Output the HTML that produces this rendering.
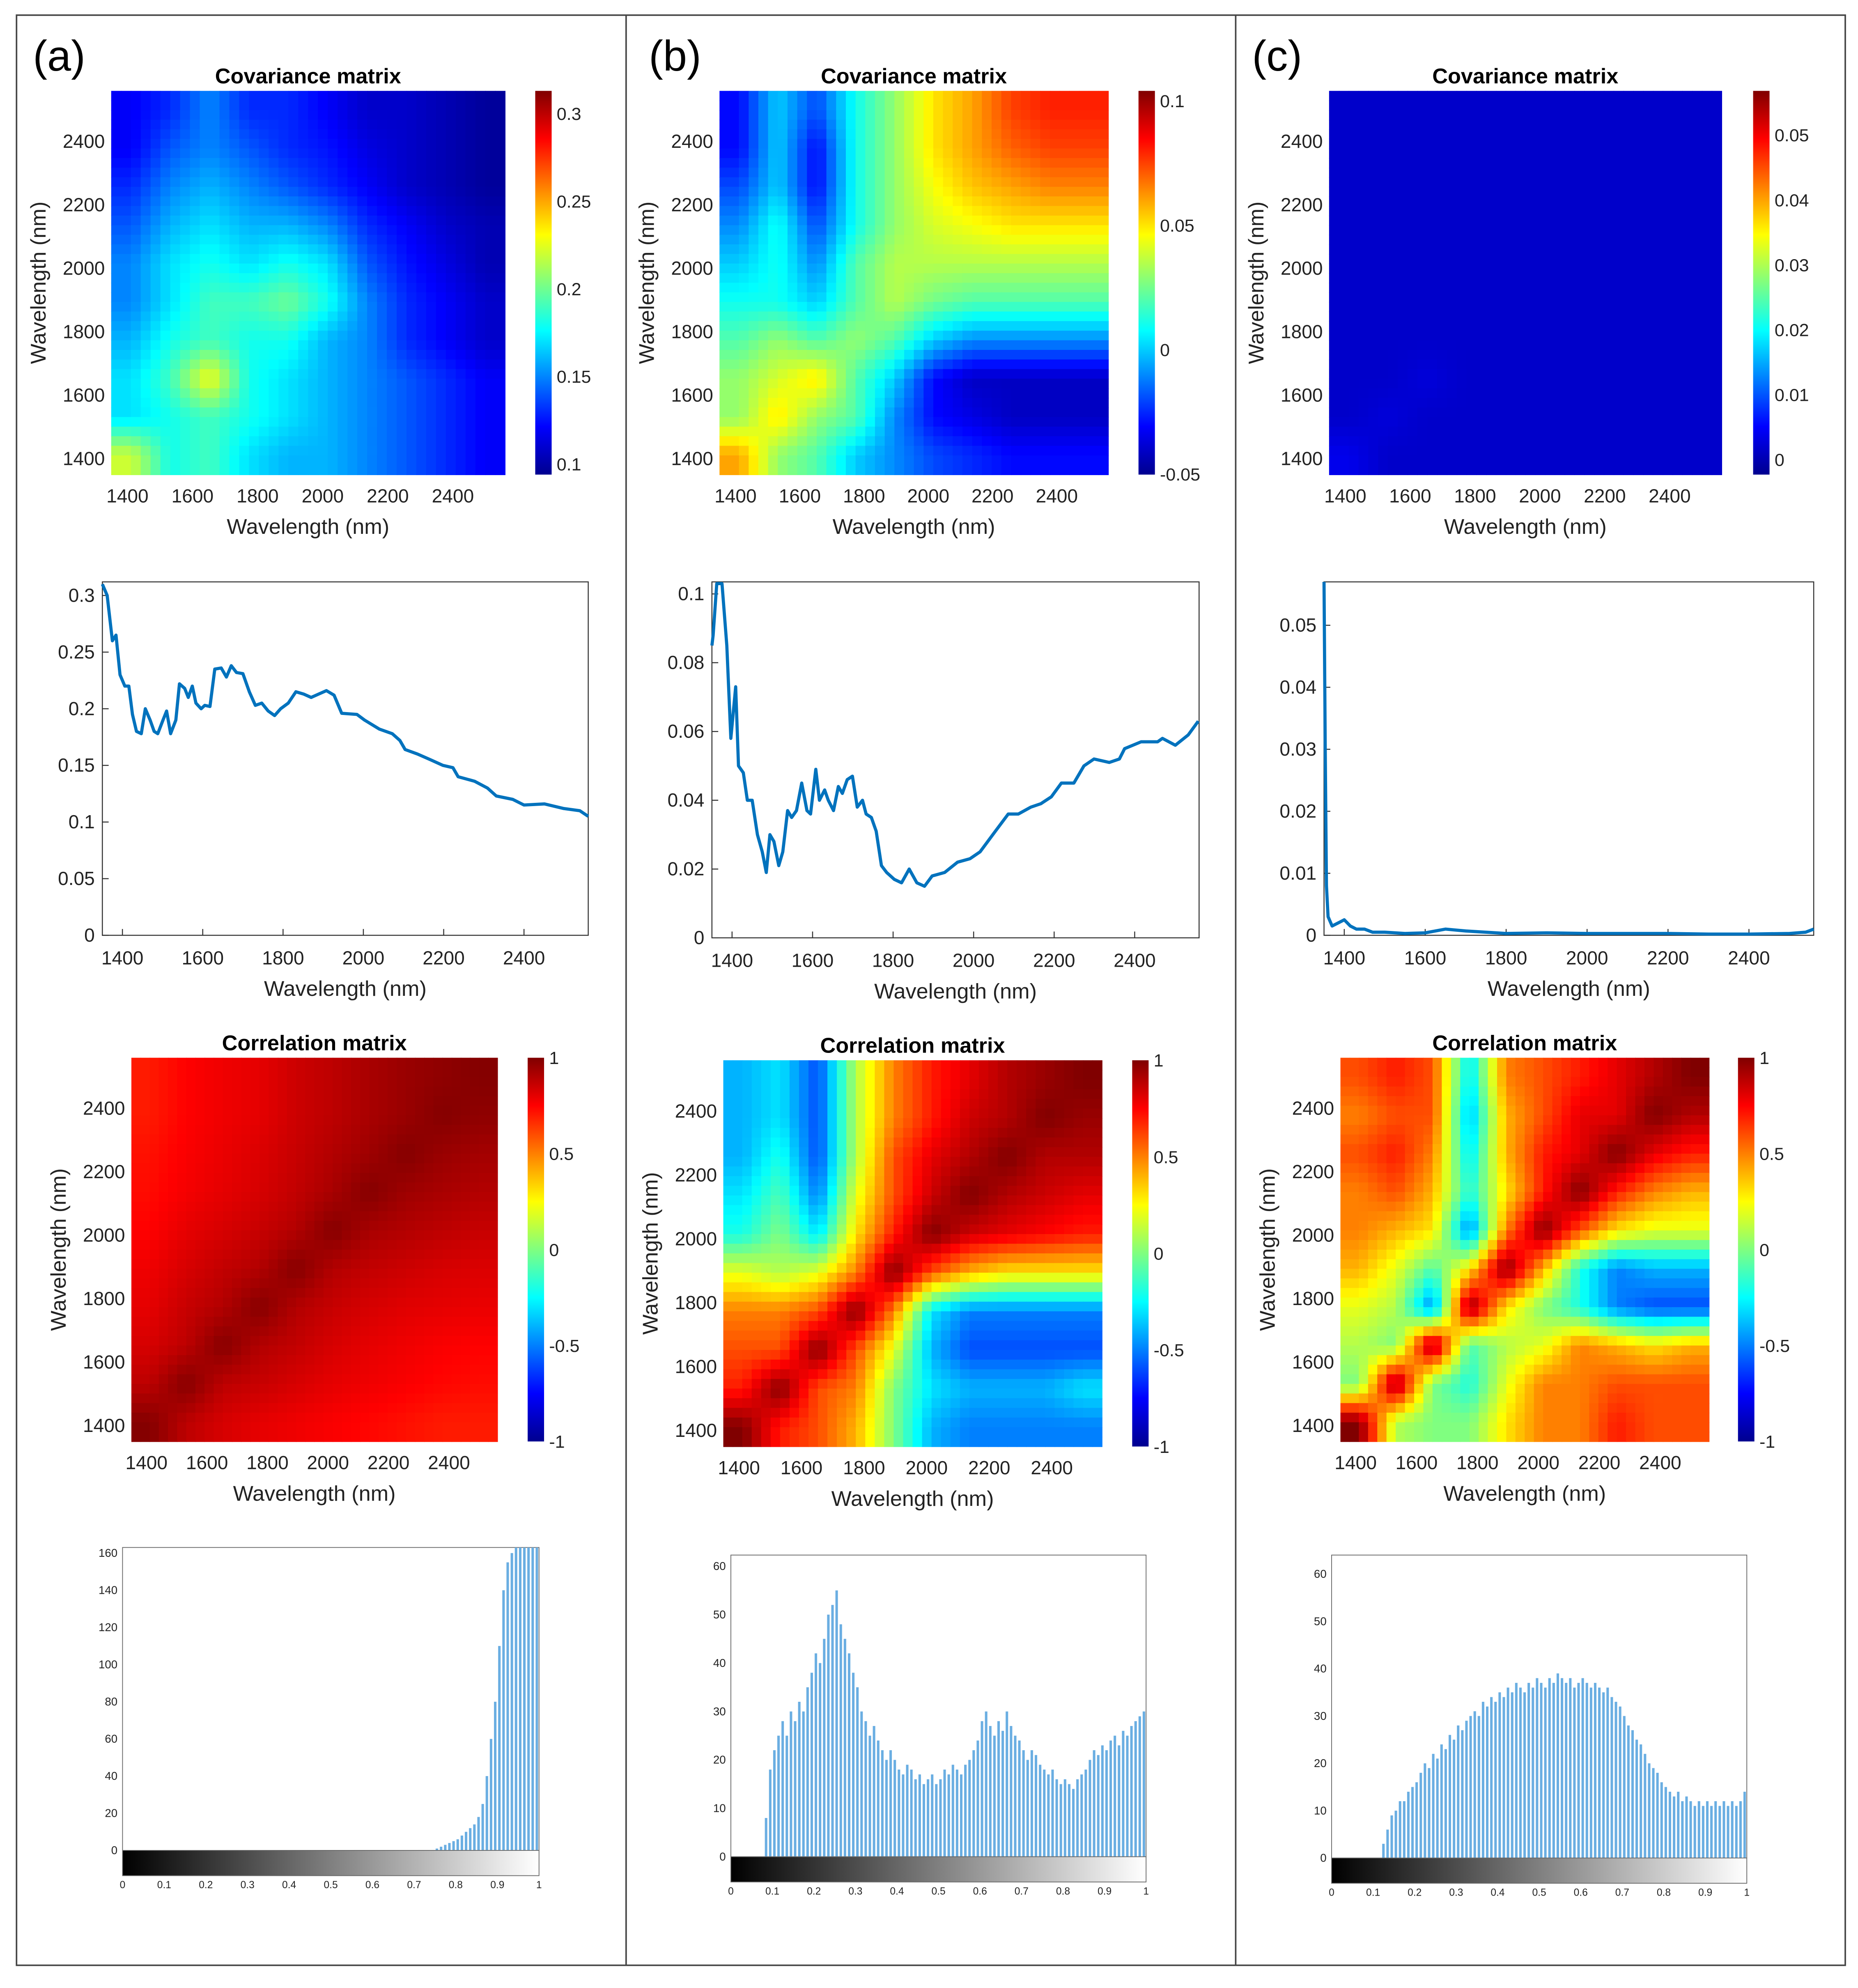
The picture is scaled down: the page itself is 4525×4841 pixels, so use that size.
<!DOCTYPE html>
<html><head><meta charset="utf-8">
<style>
html,body{margin:0;padding:0;background:#fff;}
svg{display:block;font-family:"Liberation Sans",Arial,sans-serif;}
</style></head>
<body>
<svg id="fig" width="4525" height="4841" viewBox="0 0 1472 1575" xmlns="http://www.w3.org/2000/svg">
<defs>
<linearGradient id="jetg" x1="0" y1="1" x2="0" y2="0">
<stop offset="0" stop-color="#00008f"/><stop offset="0.125" stop-color="#0000ff"/><stop offset="0.375" stop-color="#00ffff"/><stop offset="0.625" stop-color="#ffff00"/><stop offset="0.875" stop-color="#ff0000"/><stop offset="1" stop-color="#800000"/>
</linearGradient>
<linearGradient id="grayg" x1="0" y1="0" x2="1" y2="0"><stop offset="0" stop-color="#000"/><stop offset="1" stop-color="#fff"/></linearGradient>
</defs>
<rect x="13" y="12" width="1449" height="1545" fill="none" stroke="#444" stroke-width="1.2"/>
<line x1="496" y1="12" x2="496" y2="1557" stroke="#444" stroke-width="1.2"/>
<line x1="979" y1="12" x2="979" y2="1557" stroke="#444" stroke-width="1.2"/>
<text x="26" y="56" font-size="34" font-weight="500">(a)</text>
<text x="514" y="56" font-size="34" font-weight="500">(b)</text>
<text x="992" y="56" font-size="34" font-weight="500">(c)</text>
<g id="root"></g>
</svg>
<script>
// ---------- DATA ----------
const wlTicks = [1400,1600,1800,2000,2200,2400];
const covA = [
[.12,.13,.15,.13,.13,.12,.11,.11,.105,.10],
[.12,.14,.15,.14,.13,.125,.115,.11,.105,.10],
[.13,.15,.16,.15,.14,.13,.12,.11,.105,.10],
[.14,.16,.17,.16,.16,.15,.13,.12,.11,.105],
[.15,.17,.18,.17,.18,.17,.14,.125,.115,.105],
[.15,.17,.19,.19,.20,.18,.15,.13,.12,.11],
[.16,.18,.19,.18,.18,.16,.15,.13,.12,.11],
[.17,.19,.23,.18,.17,.16,.15,.14,.13,.12],
[.17,.18,.19,.18,.17,.16,.15,.14,.13,.12],
[.22,.18,.19,.17,.16,.16,.15,.14,.13,.12]];
const covB = [
[-.03,0,-.02,.01,.03,.05,.06,.075,.08,.08],
[-.03,0,-.03,.01,.03,.05,.06,.07,.075,.075],
[-.02,0,-.03,.01,.03,.045,.055,.06,.065,.065],
[-.01,.01,-.02,.01,.03,.04,.045,.05,.05,.05],
[0,.01,-.01,.02,.035,.035,.035,.035,.035,.035],
[.01,.01,0,.02,.035,.025,.02,.02,.02,.02],
[.02,.03,.02,.03,.02,0,-.01,-.01,-.01,-.01],
[.03,.04,.05,.02,0,-.03,-.04,-.04,-.04,-.04],
[.03,.05,.03,.02,-.01,-.03,-.035,-.04,-.04,-.04],
[.06,.03,.02,0,-.01,-.02,-.025,-.03,-.03,-.03]];
const covC = [
[.002,.002,.002,.002,.002,.002,.002,.002,.002,.002],
[.002,.002,.002,.002,.002,.002,.002,.002,.002,.002],
[.002,.002,.002,.002,.002,.002,.002,.002,.002,.002],
[.002,.002,.002,.002,.002,.002,.002,.002,.002,.002],
[.002,.002,.002,.002,.002,.002,.002,.002,.002,.002],
[.002,.002,.002,.002,.002,.002,.002,.002,.002,.002],
[.002,.002,.002,.002,.002,.002,.002,.002,.002,.002],
[.002,.002,.003,.002,.002,.002,.002,.002,.002,.002],
[.002,.003,.002,.002,.002,.002,.002,.002,.002,.002],
[.004,.002,.002,.002,.002,.002,.002,.002,.002,.002]];
const corrA = [
[.70,.75,.78,.80,.85,.88,.92,.95,.97,.99],
[.70,.75,.78,.80,.85,.88,.92,.95,.99,.97],
[.72,.76,.79,.82,.86,.90,.94,.99,.95,.93],
[.73,.77,.80,.83,.87,.92,.99,.94,.92,.90],
[.75,.80,.83,.86,.90,.99,.92,.90,.88,.86],
[.78,.83,.87,.90,.99,.90,.87,.85,.83,.82],
[.80,.86,.90,.99,.90,.86,.83,.81,.80,.79],
[.83,.88,.99,.90,.87,.83,.80,.78,.76,.75],
[.88,.99,.88,.86,.83,.80,.78,.76,.74,.73],
[.99,.88,.83,.80,.78,.76,.74,.72,.70,.70]];
const corrB = [
[-.4,-.3,-.6,.1,.5,.7,.8,.9,.95,1],
[-.4,-.3,-.6,.1,.5,.7,.85,.9,1,.95],
[-.4,-.2,-.6,.1,.6,.8,.9,1,.9,.9],
[-.3,-.1,-.5,.2,.6,.85,1,.9,.85,.8],
[-.2,0,-.3,.3,.7,1,.85,.8,.75,.7],
[.2,.1,.2,.5,1,.6,.4,.3,.3,.3],
[.5,.5,.6,1,.5,-.3,-.5,-.5,-.5,-.5],
[.6,.6,1,.6,.2,-.4,-.6,-.6,-.6,-.6],
[.7,1,.6,.5,0,-.3,-.4,-.4,-.4,-.3],
[1,.7,.6,.4,0,-.4,-.5,-.5,-.5,-.5]];
const corrC = [
[.6,.7,.6,-.3,.5,.6,.7,.8,.9,1],
[.5,.6,.6,-.4,.4,.6,.8,.8,1,.9],
[.6,.7,.5,-.3,.4,.7,.8,1,.8,.7],
[.5,.6,.4,-.2,.3,.7,1,.7,.5,.4],
[.5,.4,.3,-.5,.5,1,.6,.3,.2,.2],
[.4,.2,-.1,.3,1,.4,-.2,-.5,-.4,-.4],
[.2,.1,-.5,1,.3,0,-.2,-.5,-.6,-.6],
[.1,0,1,-.1,.1,.2,.5,.4,.3,.4],
[0,1,0,-.2,.2,.5,.5,.6,.6,.6],
[1,.1,0,0,.3,.5,.5,.7,.6,.6]];
const lineAx = [1350,1362,1375,1384,1394,1406,1416,1425,1435,1447,1457,1469,1479,1488,1501,1510,1520,1533,1542,1555,1564,1574,1583,1596,1605,1618,1630,1646,1659,1671,1684,1700,1716,1731,1747,1763,1779,1794,1813,1832,1851,1870,1889,1908,1927,1946,1984,2003,2040,2072,2091,2104,2135,2167,2198,2223,2236,2277,2309,2331,2372,2400,2451,2498,2539,2560];
const lineAy = [.31,.30,.26,.265,.23,.22,.22,.195,.18,.178,.20,.19,.18,.178,.19,.198,.178,.19,.222,.218,.21,.22,.205,.2,.203,.202,.235,.236,.228,.238,.232,.231,.215,.203,.205,.198,.194,.2,.205,.215,.213,.21,.213,.216,.212,.196,.195,.19,.182,.178,.172,.164,.16,.155,.15,.148,.14,.136,.13,.123,.12,.115,.116,.112,.11,.105];
const lineBx = [1350,1353,1362,1375,1387,1397,1409,1416,1428,1438,1450,1463,1475,1485,1494,1504,1516,1526,1538,1548,1560,1573,1586,1595,1608,1617,1630,1639,1652,1664,1674,1686,1699,1711,1724,1733,1746,1758,1771,1784,1803,1821,1840,1859,1878,1897,1928,1960,1991,2016,2054,2086,2111,2142,2167,2193,2218,2249,2274,2299,2337,2362,2375,2416,2457,2469,2501,2533,2558];
const lineBy = [.085,.088,.103,.103,.085,.058,.073,.05,.048,.04,.04,.03,.025,.019,.03,.028,.021,.025,.037,.035,.037,.045,.037,.036,.049,.04,.043,.04,.037,.044,.042,.046,.047,.038,.04,.036,.035,.031,.021,.019,.017,.016,.02,.016,.015,.018,.019,.022,.023,.025,.031,.036,.036,.038,.039,.041,.045,.045,.05,.052,.051,.052,.055,.057,.057,.058,.056,.059,.063];
const lineCx = [1350,1353,1356,1360,1370,1385,1400,1415,1430,1450,1470,1500,1550,1600,1650,1700,1800,1900,2000,2100,2200,2300,2400,2500,2540,2560];
const lineCy = [.057,.03,.008,.003,.0015,.002,.0025,.0015,.001,.001,.0005,.0005,.0003,.0004,.001,.0007,.0003,.0004,.0003,.0003,.0003,.0002,.0002,.0003,.0005,.001];
const histA = [0,0,0,0,0,0,0,0,0,0,0,0,0,0,0,0,0,0,0,0,0,0,0,0,0,0,0,0,0,0,0,0,0,0,0,0,0,0,0,0,0,0,0,0,0,0,0,0,0,0,0,0,0,0,0,0,0,0,0,0,0,0,0,0,0,0,0,0,0,0,0,0,0,0,0,
1,2,3,4,5,6,8,10,12,14,18,25,40,60,80,110,140,155,160,165,165,165,165,165,165];
const histB = [0,0,0,0,0,0,0,0,8,18,22,25,28,25,30,28,32,30,35,38,42,40,45,50,52,55,48,45,42,38,35,30,28,25,27,24,22,20,22,20,18,17,19,18,16,17,15,16,17,15,16,18,17,19,18,17,19,20,22,24,28,30,27,25,28,26,30,27,25,24,22,20,22,21,19,18,17,18,16,15,16,15,14,16,17,18,20,22,21,23,22,24,25,23,26,25,27,28,29,30];
const histC = [0,0,0,0,0,0,0,0,0,0,0,0,3,6,9,10,12,12,14,15,16,18,20,19,22,21,24,23,26,25,28,27,29,30,31,30,33,32,34,33,35,34,36,35,37,36,35,37,36,38,37,36,38,37,39,38,37,38,36,37,38,37,36,37,36,35,36,34,33,32,30,28,27,25,24,22,20,19,18,16,15,14,13,14,12,13,12,11,12,11,12,11,12,11,12,11,12,11,12,14];
const histXTicks = [0,0.1,0.2,0.3,0.4,0.5,0.6,0.7,0.8,0.9,1];

// ---------- HELPERS ----------
const NS = "http://www.w3.org/2000/svg";
const root = document.getElementById('root');
function mk(tag, attrs, parent){ const e=document.createElementNS(NS,tag); for(const k in attrs) e.setAttribute(k,attrs[k]); (parent||root).appendChild(e); return e; }
function lin(d0,d1,r0,r1){ return v => r0+(v-d0)/(d1-d0)*(r1-r0); }
function jet(t){ t=Math.max(0,Math.min(1,t));
  const r=Math.max(0,Math.min(1,Math.min(4*t-1.5,-4*t+4.5)));
  const g=Math.max(0,Math.min(1,Math.min(4*t-0.5,-4*t+3.5)));
  const b=Math.max(0,Math.min(1,Math.min(4*t+0.5,-4*t+2.5)));
  return `rgb(${Math.round(r*255)},${Math.round(g*255)},${Math.round(b*255)})`; }
function txt(x,y,s,size,anchor,parent,extra){ const t=mk('text',Object.assign({x:x,y:y,'font-size':size,'text-anchor':anchor||'start',fill:'#222'},extra||{}),parent); t.textContent=s; return t; }
// bilinear sample of grid M (rows top->bottom) at fractional position (fr,fc) in cell-center coords
function sample(M,fr,fc){
  const n=M.length;
  fr=Math.max(0,Math.min(n-1,fr)); fc=Math.max(0,Math.min(n-1,fc));
  const r0=Math.floor(fr), c0=Math.floor(fc), r1=Math.min(n-1,r0+1), c1=Math.min(n-1,c0+1);
  const a=fr-r0, b=fc-c0;
  return M[r0][c0]*(1-a)*(1-b)+M[r0][c1]*(1-a)*b+M[r1][c0]*a*(1-b)+M[r1][c1]*a*b;
}

function heatmap(c){
  const g=mk('g',{});
  
  
  const xs=lin(1350,2560,c.x0,c.x1), ys=lin(1350,2560,c.y1,c.y0);
  const n=c.M.length, R=40, step=(2560-1350)/R;
  for(let i=0;i<R;i++) for(let j=0;j<R;j++){
    const wl0=1350+j*step, wlTop=2560-i*step;
    const fr=(i+0.5)*n/R-0.5, fc=(j+0.5)*n/R-0.5;
    const v=sample(c.M,fr,fc);
    const r=mk('rect',{x:xs(wl0),y:ys(wlTop),width:xs(wl0+step)-xs(wl0)+0.4,height:ys(wlTop-step)-ys(wlTop)+0.4,fill:jet((v-c.vmin)/(c.vmax-c.vmin))},g);
    
    
  }
  wlTicks.forEach(w=>{
    const tx=txt(xs(w),c.y1+22,String(w),15,'middle',g);
    
    
    const ty=txt(c.x0-5,ys(w)+5,String(w),15,'end',g);
    
    
  });
  const tt=txt((c.x0+c.x1)/2,c.y0-6,c.title,17,'middle',g,{'font-weight':'bold',fill:'#000'});
  
  
  const xl=txt((c.x0+c.x1)/2,c.y1+47,'Wavelength (nm)',17,'middle',g);
  
  
  const ylx=c.x0-52, yly=(c.y0+c.y1)/2;
  const yl=txt(ylx,yly,'Wavelength (nm)',17,'middle',g,{transform:`rotate(-90 ${ylx} ${yly})`});
  
  
  const cb=mk('rect',{x:c.cbx,y:c.y0,width:13,height:c.y1-c.y0,fill:'url(#jetg)'},g);
  
  
  const cs=lin(c.vmin,c.vmax,c.y1,c.y0);
  c.cbTicks.forEach(v=>{
    const l=txt(c.cbx+17,cs(v)+5,String(v),14,'start',g);
    
    
  });
}

function lineplot(c){
  const g=mk('g',{});
  
  
  const xs=lin(1350,2560,c.x0,c.x1), ys=lin(c.ymin,c.ymax,c.y1,c.y0);
  const box=mk('rect',{x:c.x0,y:c.y0,width:c.x1-c.x0,height:c.y1-c.y0,fill:'#fff',stroke:'#333','stroke-width':0.8},g);
  
  
  c.yticks.forEach(v=>{
    mk('line',{x1:c.x0,x2:c.x0+5,y1:ys(v),y2:ys(v),stroke:'#333','stroke-width':0.8},g);
    const l=txt(c.x0-6,ys(v)+5,String(v),15,'end',g);
    
    
  });
  wlTicks.forEach(w=>{
    mk('line',{x1:xs(w),x2:xs(w),y1:c.y1,y2:c.y1-5,stroke:'#333','stroke-width':0.8},g);
    const l=txt(xs(w),c.y1+23,String(w),15,'middle',g);
    
    
  });
  const xl=txt((c.x0+c.x1)/2,c.y1+48,'Wavelength (nm)',17,'middle',g);
  
  
  const pts=c.xs.map((x,i)=>xs(x).toFixed(2)+','+ys(c.ys[i]).toFixed(2)).join(' ');
  const pl=mk('polyline',{points:pts,fill:'none',stroke:'#0072BD','stroke-width':2.5,'stroke-linejoin':'round'},g);
  
  
}

function histogram(c){
  const g=mk('g',{});
  
  
  const xs=lin(0,1,c.x0,c.x1), ys=lin(0,c.ymax,c.y1,c.y0);
  const box=mk('rect',{x:c.x0,y:c.y0,width:c.x1-c.x0,height:c.y1-c.y0,fill:'#fff',stroke:'#666','stroke-width':0.6},g);
  
  
  const n=c.vals.length, w=1/n;
  c.vals.forEach((v,i)=>{
    if(v<=0) return;
    const vv=Math.min(v,c.ymax);
    const b=mk('rect',{x:xs(i*w)+0.6,y:ys(vv),width:(xs(w)-xs(0))*0.6,height:ys(0)-ys(vv),fill:'#6aaee2'},g);
    
    
  });
  c.yticks.forEach(v=>{
    const l=txt(c.x0-4,ys(v)+3,String(v),9,'end',g);
    
    
  });
  const gb=mk('rect',{x:c.x0,y:c.y1,width:c.x1-c.x0,height:20,fill:'url(#grayg)',stroke:'#666','stroke-width':0.6},g);
  
  
  histXTicks.forEach(v=>{
    const l=txt(xs(v),c.y1+30,String(v),8,'middle',g);
    
    
  });
}

// ---------- BUILD ----------
const covTicksA=[0.1,0.15,0.2,0.25,0.3], covTicksB=[-0.05,0,0.05,0.1], covTicksC=[0,0.01,0.02,0.03,0.04,0.05], corrTicks=[-1,-0.5,0,0.5,1];
heatmap({name:'covariance-heatmap-a',x0:88,x1:400,y0:72,y1:376,vmin:0.094,vmax:0.313,M:covA,cbx:424,cbTicks:covTicksA,title:'Covariance matrix'});
heatmap({name:'covariance-heatmap-b',x0:570,x1:878,y0:72,y1:376,vmin:-0.0502,vmax:0.104,M:covB,cbx:902,cbTicks:covTicksB,title:'Covariance matrix'});
heatmap({name:'covariance-heatmap-c',x0:1053,x1:1364,y0:72,y1:376,vmin:-0.0023,vmax:0.0568,M:covC,cbx:1389,cbTicks:covTicksC,title:'Covariance matrix'});
heatmap({name:'correlation-heatmap-a',x0:104,x1:394,y0:838,y1:1142,vmin:-1,vmax:1,M:corrA,cbx:418,cbTicks:corrTicks,title:'Correlation matrix'});
heatmap({name:'correlation-heatmap-b',x0:573,x1:873,y0:840,y1:1146,vmin:-1,vmax:1,M:corrB,cbx:897,cbTicks:corrTicks,title:'Correlation matrix'});
heatmap({name:'correlation-heatmap-c',x0:1062,x1:1354,y0:838,y1:1142,vmin:-1,vmax:1,M:corrC,cbx:1377,cbTicks:corrTicks,title:'Correlation matrix'});
lineplot({name:'variance-plot-a',x0:81,x1:466,y0:461,y1:741,ymin:0,ymax:0.312,yticks:[0,0.05,0.1,0.15,0.2,0.25,0.3],xs:lineAx,ys:lineAy});
lineplot({name:'variance-plot-b',x0:564,x1:950,y0:461,y1:743,ymin:0,ymax:0.1035,yticks:[0,0.02,0.04,0.06,0.08,0.1],xs:lineBx,ys:lineBy});
lineplot({name:'variance-plot-c',x0:1049,x1:1437,y0:461,y1:741,ymin:0,ymax:0.057,yticks:[0,0.01,0.02,0.03,0.04,0.05],xs:lineCx,ys:lineCy});
histogram({name:'histogram-a',x0:97,x1:427,y0:1226,y1:1466,ymax:163,yticks:[0,20,40,60,80,100,120,140,160],vals:histA});
histogram({name:'histogram-b',x0:579,x1:908,y0:1232,y1:1471,ymax:62.3,yticks:[0,10,20,30,40,50,60],vals:histB});
histogram({name:'histogram-c',x0:1055,x1:1384,y0:1232,y1:1472,ymax:64,yticks:[0,10,20,30,40,50,60],vals:histC});
</script>
</body></html>
